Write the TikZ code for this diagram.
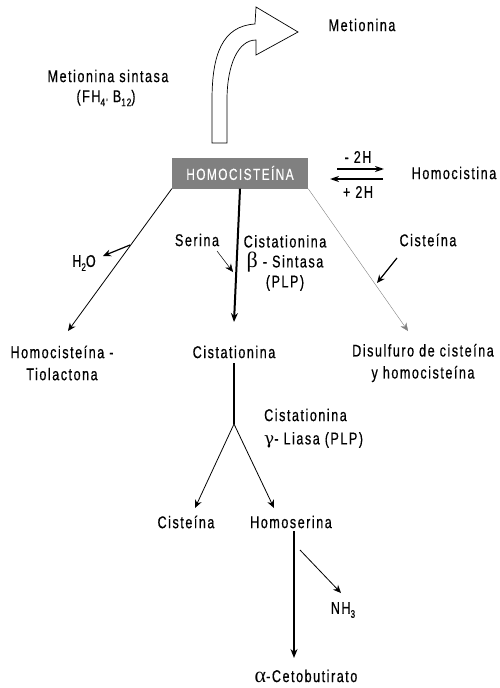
\documentclass[tikz,border=0pt]{standalone}
\usepackage{fontspec}
\setmainfont{Liberation Sans}[FakeStretch=0.74, LetterSpace=9, FakeBold=0.5]
\newfontfamily\grk{Liberation Serif}
\newfontfamily\grkd{DejaVu Serif}
\usetikzlibrary{arrows.meta}
\newcommand{\sub}[1]{\raisebox{-0.45ex}{\fontsize{11}{11}\selectfont #1}}
\definecolor{boxgray}{RGB}{128,128,128}
\tikzset{
  lbl/.style={inner sep=0pt, font=\fontsize{17}{19}\selectfont, align=center},
  thinarr/.style={-{Stealth[length=8pt,width=7pt]}, line width=0.8pt},
  thickarr/.style={-{Stealth[length=9pt,width=7pt]}, line width=2pt},
  smallarr/.style={-{Stealth[length=8pt,width=7pt]}, line width=0.5pt},
}
\begin{document}
\begin{tikzpicture}[x=1pt,y=-1pt]
\useasboundingbox (0,0) rectangle (499,688);
% curved arrow
\draw[line width=0.7pt, fill=white] (212,143) -- (212,100) .. controls (212,55) and (222,26) .. (255,24) -- (256,7) -- (298,32) -- (256,55) -- (256,40) .. controls (238,40) and (227,65) .. (227,100) -- (227,143) -- cycle;
\node[lbl] (met) at (362,25) {Metionina};
\node[lbl] (ms) at (108,76) {Metionina sintasa};
\node[lbl] (fh) at (106,98) {(FH\sub{4'} B\sub{12})};
% box
\node[fill=boxgray, minimum width=136pt, minimum height=31pt, inner sep=0pt, text=white, font=\fontsize{16}{18}\selectfont] (hcy) at (240,173) {HOMOCISTEÍNA};
\node[lbl] (hci) at (454,173) {Homocistina};
\coordinate (r1) at (337,169); \coordinate (r2) at (384,169);
\coordinate (l1) at (383,179); \coordinate (l2) at (330,179);
\draw[-{Stealth[length=9pt,width=6pt]}, line width=2pt] (r1) -- (r2);
\draw[-{Stealth[length=9pt,width=6pt]}, line width=2pt] (l1) -- (l2);
\node[lbl] (m2h) at (358,157) {- 2H};
\node[lbl] (p2h) at (358,192) {+ 2H};
% row 2 labels
\node[lbl] (htl) at (62,363) {Homocisteína -\\[3pt]Tiolactona};
\node[lbl] (cis1) at (234,352) {Cistationina};
\node[lbl] (dis) at (423,363) {Disulfuro de cisteína\\[3pt]y homocisteína};
\coordinate (tl) at (68,331);
\coordinate (tm) at (234,322);
\coordinate (tr) at (408,331);
\draw[thinarr] (hcy.south west) -- (tl);
\draw[thickarr] (hcy.south) -- (tm);
\draw[-{Stealth[length=8pt,width=7pt]}, line width=0.4pt, draw=gray] (hcy.south east) -- (tr);
% H2O
\node[lbl] (h2o) at (84,263) {H\sub{2}O};
\coordinate (hs) at (130,245); \coordinate (he) at (103,256);
\draw[-{Stealth[length=8pt,width=7pt]}, line width=1.2pt] (hs) -- (he);
% Serina
\node[lbl] (ser) at (197,240) {Serina};
\coordinate (ss) at (217,251); \coordinate (se) at (233,272);
\draw[smallarr] (ss) -- (se);
\node[lbl] (cbs) at (285,263) {Cistationina\\[1pt]{\grk\fontsize{22}{22}\selectfont β} - Sintasa\\[1pt](PLP)};
% Cisteina right
\node[lbl] (cisr) at (428,240) {Cisteína};
\coordinate (cs) at (397,258); \coordinate (ce) at (377,283);
\draw[-{Stealth[length=8pt,width=7pt]}, line width=1.2pt] (cs) -- (ce);
% lower part
\coordinate (br) at (234,424);
\draw[line width=2.2pt] (234,363) -- (br);
\node[lbl, anchor=west] (cgl) at (264,415) {Cistationina};
\node[lbl, anchor=west] (cgl2) at (264,440) {{\grkd\fontsize{17}{17}\selectfont γ}- Liasa (PLP)};
\node[lbl] (cis2) at (186,522) {Cisteína};
\node[lbl] (hser) at (291,522) {Homoserina};
\coordinate (bl) at (195,508); \coordinate (bre) at (274,508);
\draw[thinarr] (br) -- (bl);
\draw[thinarr] (br) -- (bre);
\coordinate (vt) at (294,531); \coordinate (vb) at (294,658);
\draw[-{Stealth[length=9pt,width=7pt]}, line width=1.4pt] (vt) -- (vb);
\coordinate (ns) at (300,550); \coordinate (ne) at (341,593);
\draw[thinarr] (ns) -- (ne);
\node[lbl] (nh3) at (343,610) {NH\sub{3}};
\node[lbl] (acb) at (306,676) {{\grk\fontsize{22}{22}\selectfont α}-Cetobutirato};
\end{tikzpicture}
\end{document}
